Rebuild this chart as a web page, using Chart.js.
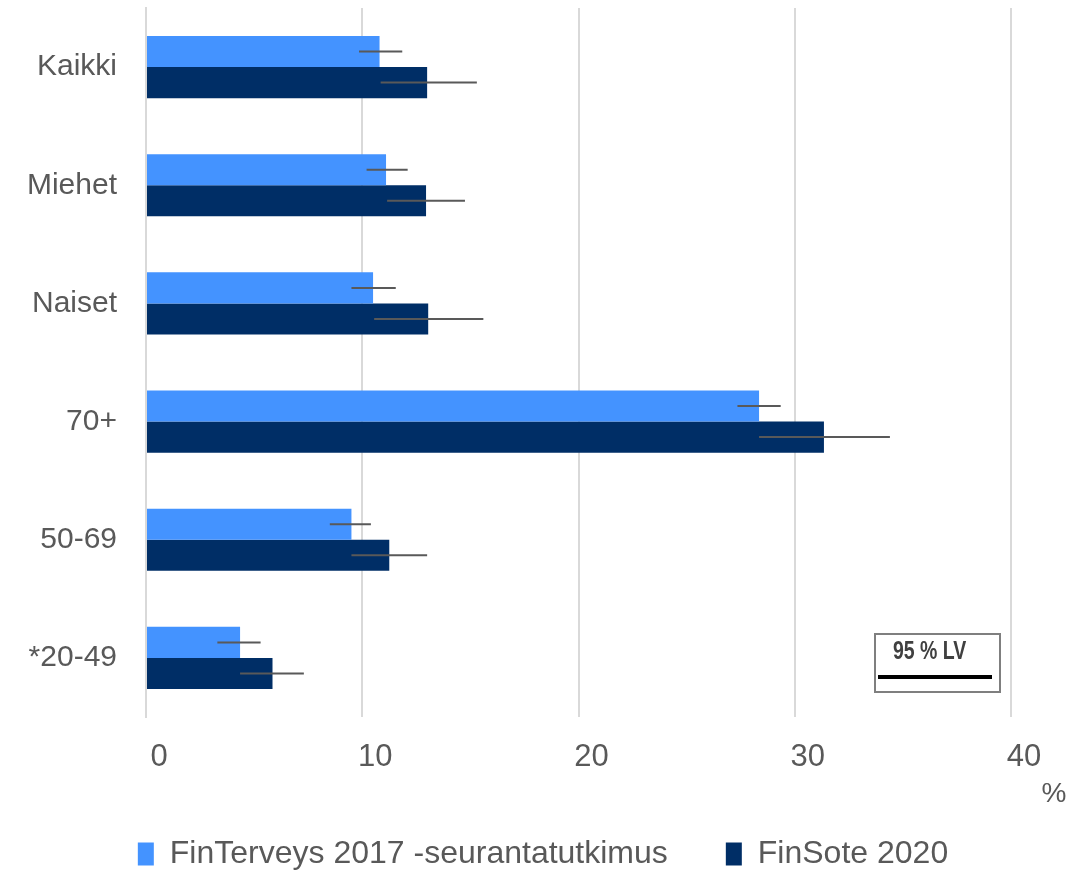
<!DOCTYPE html>
<html>
<head>
<meta charset="utf-8">
<script src="https://cdn.jsdelivr.net/npm/chart.js@4.4.1/dist/chart.umd.min.js"></script>
<style>
  html, body { margin: 0; padding: 0; background: #ffffff; }
  #wrap { width: 1086px; height: 870px; }
</style>
</head>
<body>
<div id="wrap"><canvas id="chart" width="1086" height="870"></canvas></div>
<script>
// ---- data ----
const categories = ['Kaikki', 'Miehet', 'Naiset', '70+', '50-69', '*20-49'];
const seriesNames = ['FinTerveys 2017 -seurantatutkimus', 'FinSote 2020'];

const finterveys2017 = [10.8, 11.1, 10.5, 28.35, 9.5, 4.35];
const finterveysLow  = [9.85, 10.2, 9.5, 27.35, 8.5, 3.3];
const finterveysHigh = [11.85, 12.1, 11.55, 29.35, 10.4, 5.3];

const finsote2020 = [13.0, 12.95, 13.05, 31.35, 11.25, 5.85];
const finsoteLow  = [10.85, 11.15, 10.55, 28.35, 9.5, 4.35];
const finsoteHigh = [15.3, 14.75, 15.6, 34.4, 13.0, 7.3];

const xTicks = [0, 10, 20, 30, 40];

const textColor = '#595959';
const gridColor = '#d9d9d9';

// ---- error bars (95 % luottamusväli) ----
const errorBars = {
    id: 'errorBars',
    afterDatasetsDraw(chart) {
        const ctx = chart.ctx;
        const xScale = chart.scales.x;
        const ranges = [[finterveysLow, finterveysHigh], [finsoteLow, finsoteHigh]];
        ctx.save();
        ctx.strokeStyle = '#595959';
        ctx.lineWidth = 2;
        ranges.forEach(([low, high], i) => {
            const meta = chart.getDatasetMeta(i);
            meta.data.forEach((bar, j) => {
                ctx.beginPath();
                ctx.moveTo(xScale.getPixelForValue(low[j]), bar.y);
                ctx.lineTo(xScale.getPixelForValue(high[j]), bar.y);
                ctx.stroke();
            });
        });
        ctx.restore();
    }
};

// ---- "%" unit and the small "95 % LV" key ----
const extras = {
    id: 'extras',
    afterDraw(chart) {
        const ctx = chart.ctx;
        ctx.save();
        ctx.fillStyle = textColor;
        ctx.font = '28px "Liberation Sans", Arial, sans-serif';
        ctx.textAlign = 'center';
        ctx.textBaseline = 'middle';
        ctx.fillText('%', 1054, 794);

        // key box
        ctx.strokeStyle = '#7f7f7f';
        ctx.lineWidth = 2;
        ctx.strokeRect(875, 634, 125, 58);
        ctx.fillStyle = '#404040';
        ctx.font = 'bold 25px "Liberation Sans", Arial, sans-serif';
        ctx.textAlign = 'left';
        ctx.save();
        ctx.translate(893, 652);
        ctx.scale(0.78, 1);
        ctx.fillText('95 % LV', 0, 0);
        ctx.restore();
        ctx.strokeStyle = '#000000';
        ctx.lineWidth = 4;
        ctx.beginPath();
        ctx.moveTo(878, 677);
        ctx.lineTo(992, 677);
        ctx.stroke();
        ctx.restore();
    }
};

const ctx = document.getElementById('chart').getContext('2d');

new Chart(ctx, {
    type: 'bar',
    data: {
        labels: categories,
        datasets: [{
            label: seriesNames[0],
            data: finterveys2017,
            backgroundColor: '#4493ff',
            borderWidth: 0,
            categoryPercentage: 0.526,
            barPercentage: 1.0
        }, {
            label: seriesNames[1],
            data: finsote2020,
            backgroundColor: '#002e66',
            borderWidth: 0,
            categoryPercentage: 0.526,
            barPercentage: 1.0
        }]
    },
    options: {
        indexAxis: 'y',
        responsive: false,
        animation: false,
        layout: { padding: { top: 8, left: 0, right: 0, bottom: -10 } },
        plugins: {
            legend: {
                display: true,
                position: 'bottom',
                labels: {
                    color: textColor,
                    font: { size: 32, family: '"Liberation Sans", Arial, sans-serif' },
                    boxWidth: 16,
                    boxHeight: 23,
                    padding: 58
                }
            },
            tooltip: { enabled: false },
            title: { display: false }
        },
        scales: {
            x: {
                type: 'linear',
                min: 0,
                max: 40,
                afterBuildTicks: scale => { scale.ticks = xTicks.map(v => ({ value: v })); },
                afterFit: scale => { scale.height = 63; },
                grid: { color: gridColor, lineWidth: 2, drawTicks: false },
                border: { display: false },
                ticks: {
                    color: textColor,
                    font: { size: 31, family: '"Liberation Sans", Arial, sans-serif' },
                    padding: 22,
                    labelOffset: 13,
                    maxRotation: 0
                }
            },
            y: {
                afterFit: scale => {
                    scale.width = 146;
                    scale.paddingTop = 0;
                    scale.paddingBottom = 0;
                },
                grid: { display: false },
                border: { color: gridColor, width: 2 },
                ticks: {
                    color: textColor,
                    font: { size: 30, family: '"Liberation Sans", Arial, sans-serif' },
                    padding: 21
                }
            },
            y2: {
                position: 'right',
                afterFit: scale => {
                    scale.width = 75;
                    scale.paddingTop = 0;
                    scale.paddingBottom = 0;
                },
                grid: { display: false },
                border: { display: false },
                ticks: { display: false }
            }
        }
    },
    plugins: [errorBars, extras]
});
</script>
</body>
</html>
